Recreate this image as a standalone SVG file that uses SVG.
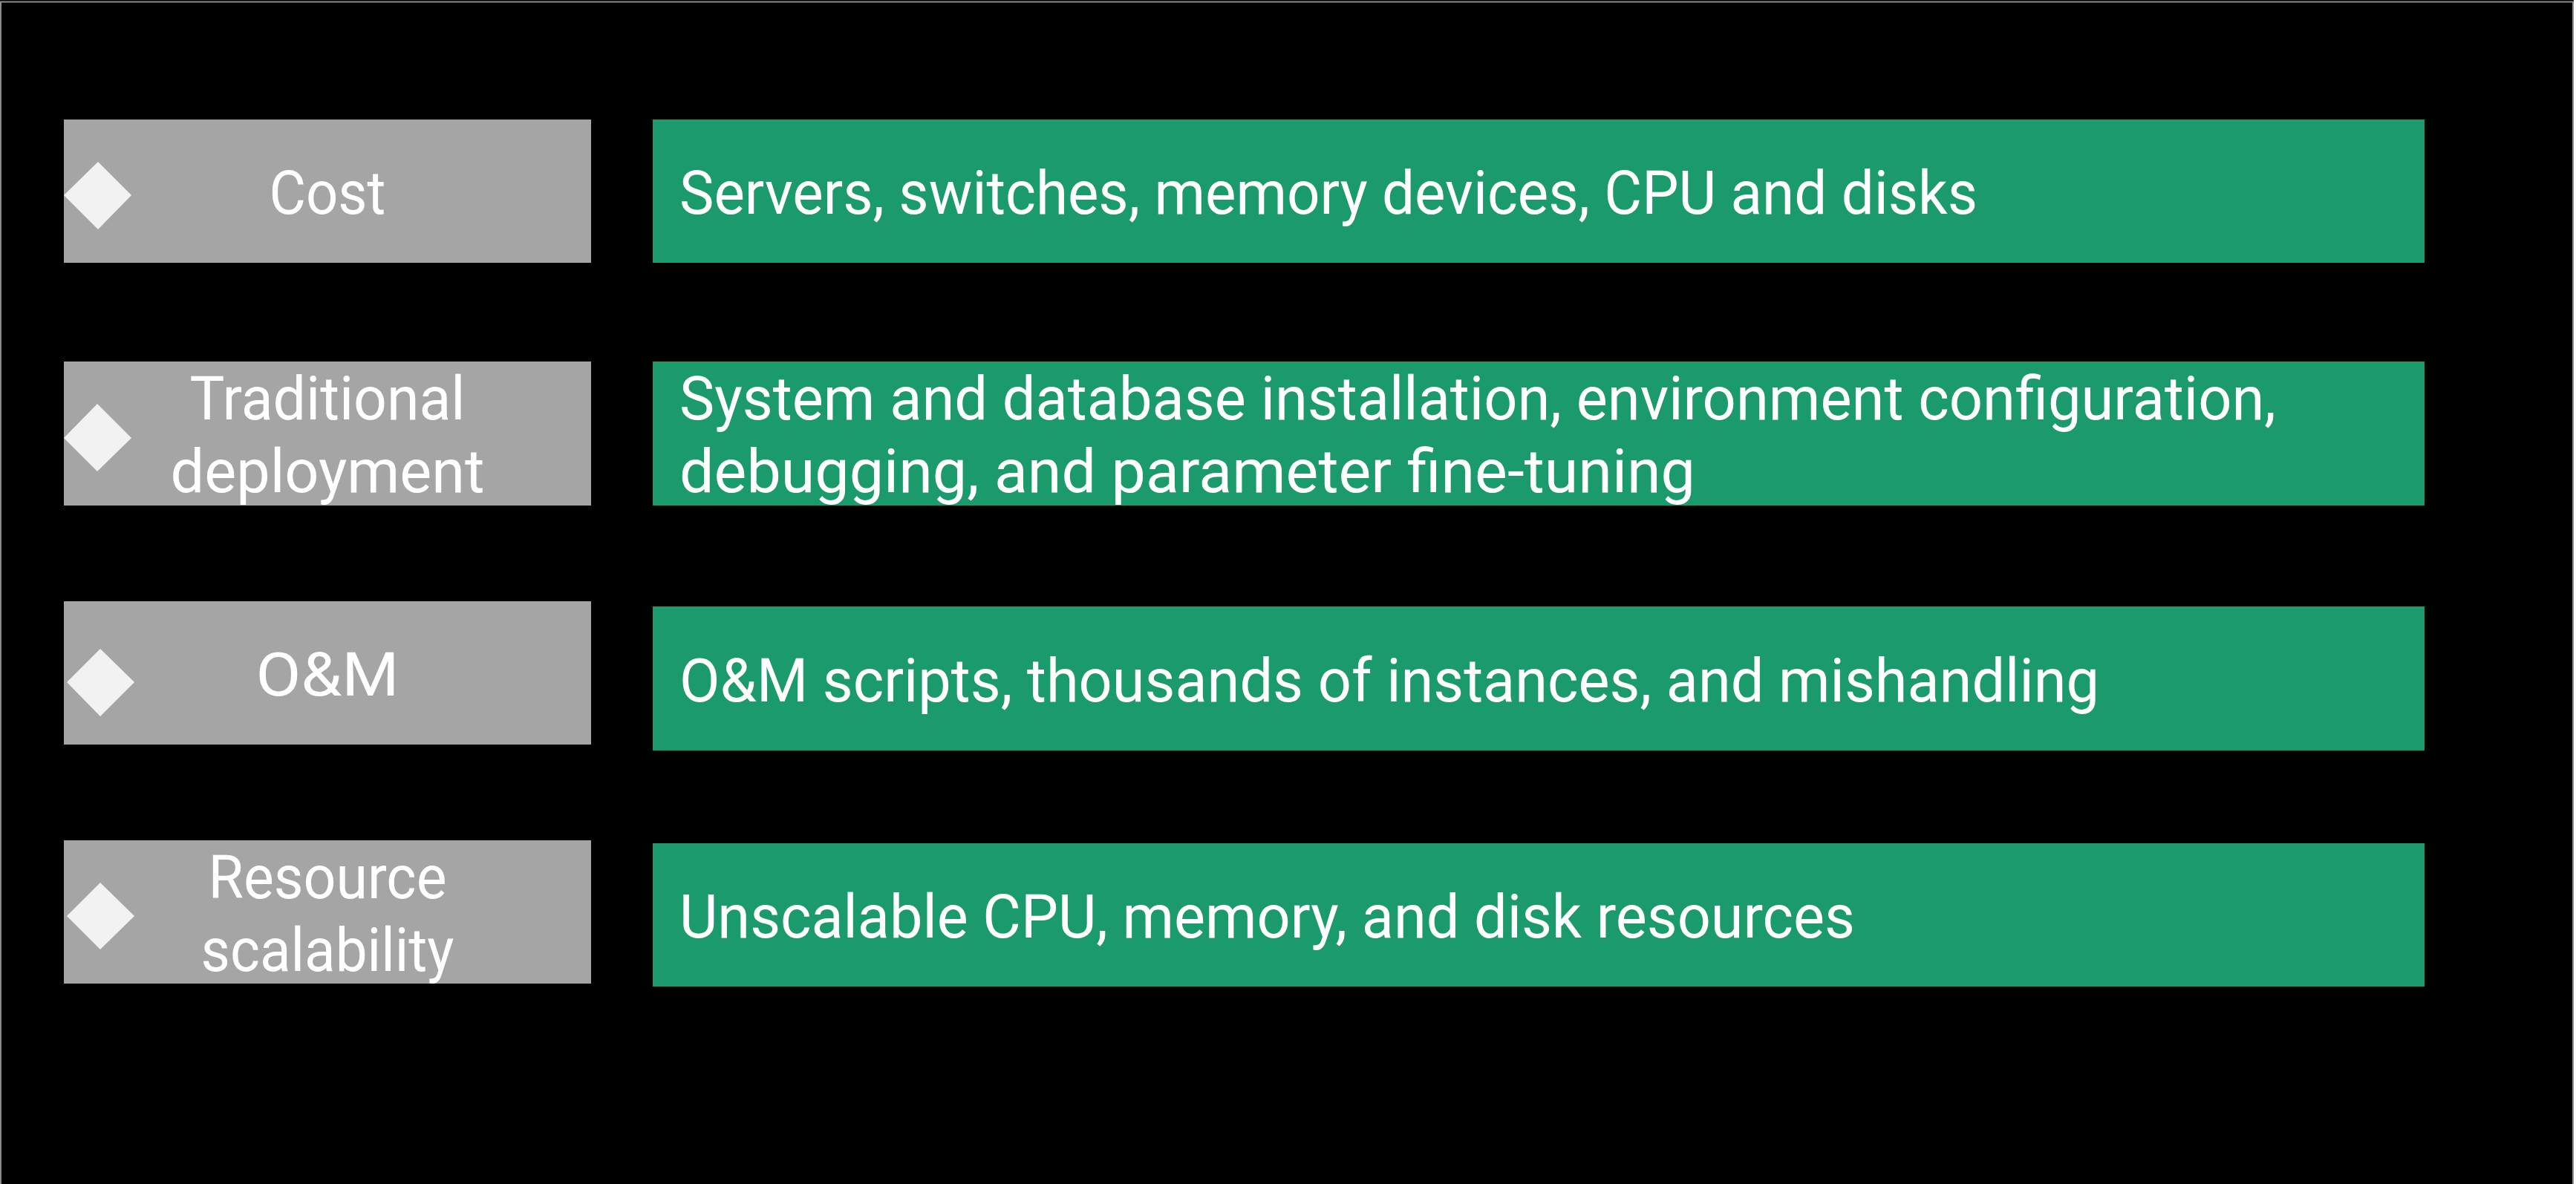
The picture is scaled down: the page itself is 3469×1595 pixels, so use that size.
<svg xmlns="http://www.w3.org/2000/svg" width="3469" height="1595" viewBox="0 0 3469 1595">
<style>
.gray{fill:#A5A5A5;}
.green{fill:#1B9A6B;}
.dia{fill:#F2F2F2;}
.t{font-family:Roboto,"Noto Sans",sans-serif;font-size:81px;fill:#FFFFFF;}
.c{text-anchor:middle;}
</style>
<rect x="0" y="0" width="3469" height="1595" fill="#000000"/>
<rect x="3466" y="0" width="3" height="1595" fill="#FFFFFF"/>
<path d="M1,1600 V2.5 H3465 V1600" fill="none" stroke="#8C8C8C" stroke-width="2"/>
<g id="cost">
<rect class="gray" x="86" y="161" width="710" height="193"/>
<polygon class="dia" points="132,218 177,263 132,309 86,263"/>
<text class="t c" x="441" y="288" textLength="157" lengthAdjust="spacingAndGlyphs">Cost</text>
</g>
<g id="cost-detail">
<rect class="green" x="879" y="161" width="2386" height="193"/>
<text class="t" x="915" y="288" textLength="1748" lengthAdjust="spacingAndGlyphs">Servers, switches, memory devices, CPU and disks</text>
</g>
<g id="deployment">
<rect class="gray" x="86" y="487" width="710" height="194"/>
<polygon class="dia" points="131,544 177,590 131,635 86,590"/>
<text class="t c" x="441" y="565" textLength="371" lengthAdjust="spacingAndGlyphs">Traditional</text>
<text class="t c" x="441" y="663" textLength="423" lengthAdjust="spacingAndGlyphs">deployment</text>
</g>
<g id="deployment-detail">
<rect class="green" x="879" y="487" width="2386" height="194"/>
<text class="t" x="915" y="565" textLength="2150" lengthAdjust="spacingAndGlyphs">System and database installation, environment configuration,</text>
<text class="t" x="915" y="663" textLength="1368" lengthAdjust="spacingAndGlyphs">debugging, and parameter fine-tuning</text>
</g>
<g id="om">
<rect class="gray" x="86" y="810" width="710" height="193"/>
<polygon class="dia" points="135,874 181,919 135,965 90,919"/>
<text class="t c" x="441" y="937" textLength="193" lengthAdjust="spacingAndGlyphs">O&amp;M</text>
</g>
<g id="om-detail">
<rect class="green" x="879" y="817" width="2386" height="194"/>
<text class="t" x="915" y="945" textLength="1912" lengthAdjust="spacingAndGlyphs">O&amp;M scripts, thousands of instances, and mishandling</text>
</g>
<g id="scalability">
<rect class="gray" x="86" y="1132" width="710" height="193"/>
<polygon class="dia" points="135,1189 181,1234 135,1279 90,1234"/>
<text class="t c" x="441" y="1210" textLength="321" lengthAdjust="spacingAndGlyphs">Resource</text>
<text class="t c" x="441" y="1308" textLength="341" lengthAdjust="spacingAndGlyphs">scalability</text>
</g>
<g id="scalability-detail">
<rect class="green" x="879" y="1136" width="2386" height="193"/>
<text class="t" x="915" y="1263" textLength="1583" lengthAdjust="spacingAndGlyphs">Unscalable CPU, memory, and disk resources</text>
</g>
<g id="connectors"></g>
</svg>
